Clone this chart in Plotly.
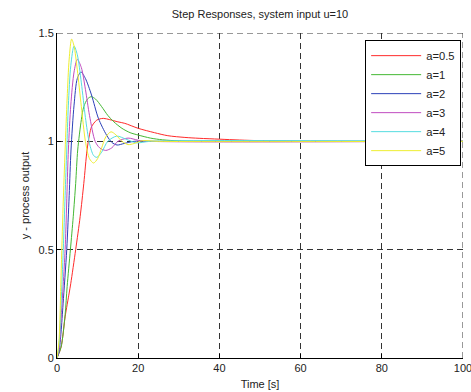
import plotly.graph_objects as go

# ---- data ----
labels = ["a=0.5", "a=1", "a=2", "a=3", "a=4", "a=5"]

t_a05 = [0, 1, 2, 3, 3.4, 4.6, 5.7, 6.6, 7.4, 8, 8.5, 9.8, 11.4, 13, 15, 16.7, 20, 24, 27.3, 31.5, 35, 40, 45, 50, 60, 100]
y_a05 = [0, 0.05, 0.19, 0.30, 0.345, 0.5, 0.652, 0.806, 0.96, 1.03, 1.067, 1.098, 1.106, 1.10, 1.09, 1.083, 1.06, 1.04, 1.026, 1.018, 1.014, 1.01, 1.006, 1.003, 1.0, 1.0]

t_a1 = [0, 1, 2, 2.5, 3.3, 4, 4.6, 5.1, 6, 6.6, 7.5, 8.4, 9.5, 11, 12.5, 14, 16, 18, 20, 23, 26, 30, 35, 100]
y_a1 = [0, 0.05, 0.2, 0.33, 0.5, 0.652, 0.806, 0.96, 1.10, 1.16, 1.195, 1.206, 1.195, 1.16, 1.12, 1.09, 1.06, 1.04, 1.029, 1.015, 1.007, 1.002, 1.0, 1.0]

t_a2 = [0, 0.5, 1, 1.5, 2.4, 3, 3.45, 4.2, 5, 5.9, 7, 8.5, 10.2, 12.2, 13.5, 14.8, 16.5, 19, 22, 100]
y_a2 = [0, 0.03, 0.12, 0.25, 0.5, 0.75, 0.96, 1.167, 1.29, 1.32, 1.29, 1.214, 1.106, 1.029, 0.995, 0.983, 0.99, 1.0, 1.0, 1.0]

t_a3 = [0, 0.5, 1, 2, 2.8, 3.4, 4.2, 5, 6, 7, 8, 9.4, 10.5, 12, 13.5, 15, 17.5, 20, 23, 100]
y_a3 = [0, 0.04, 0.18, 0.5, 0.96, 1.167, 1.32, 1.378, 1.34, 1.24, 1.12, 1.0, 0.97, 0.958, 0.97, 1.0, 1.015, 1.005, 1.0, 1.0]

t_a4 = [0, 0.5, 1, 1.55, 2, 2.4, 2.8, 3.4, 4.2, 5, 6, 7, 8, 9, 9.8, 11, 12.5, 14.7, 17, 19.5, 23, 100]
y_a4 = [0, 0.06, 0.25, 0.5, 0.75, 0.96, 1.167, 1.35, 1.44, 1.40, 1.27, 1.11, 0.99, 0.935, 0.926, 0.95, 1.0, 1.024, 1.01, 0.993, 1.0, 1.0]

t_a5 = [0, 0.5, 1, 1.5, 2, 2.5, 3, 3.6, 4.2, 5, 6, 7, 8, 9, 10, 11, 12, 13.3, 14.5, 16, 17.5, 19, 21, 25, 100]
y_a5 = [0, 0.08, 0.38, 0.70, 0.96, 1.20, 1.38, 1.472, 1.44, 1.33, 1.16, 1.00, 0.92, 0.90, 0.92, 0.97, 1.02, 1.044, 1.03, 1.00, 0.985, 0.99, 1.003, 1.0, 1.0]

x_ticks = [0, 20, 40, 60, 80, 100]
y_ticks = [0, 0.5, 1, 1.5]
y_ticklabels = ["0", "0.5", "1", "1.5"]

series_t = [t_a05, t_a1, t_a2, t_a3, t_a4, t_a5]
series_y = [y_a05, y_a1, y_a2, y_a3, y_a4, y_a5]
colors = ["#ff2a2a", "#44b834", "#2a40b8", "#c04cc0", "#55dde0", "#eeee30"]

FONT = "Arial, Liberation Sans, Helvetica, sans-serif"
GRID = "#333333"

fig = go.Figure()
for lab, tt, yy, c in zip(labels, series_t, series_y, colors):
    fig.add_trace(go.Scatter(x=tt, y=yy, mode="lines", name=lab,
                             line=dict(color=c, width=1, shape="spline", smoothing=0.8)))

# dashed grid lines at the far edges (top and right), which plotly omits
fig.add_shape(type="line", xref="x", yref="y", x0=x_ticks[0], x1=x_ticks[-1],
              y0=y_ticks[-1], y1=y_ticks[-1], layer="below",
              line=dict(color=GRID, width=1, dash="6px,4px"))
fig.add_shape(type="line", xref="x", yref="y", x0=x_ticks[-1], x1=x_ticks[-1],
              y0=y_ticks[0], y1=y_ticks[-1], layer="below",
              line=dict(color=GRID, width=1, dash="6px,4px"))

axis_common = dict(
    showline=True, linecolor="black", linewidth=1,
    ticks="inside", ticklen=4, tickcolor="black",
    showgrid=True, gridcolor=GRID, griddash="6px,4px", gridwidth=1,
    zeroline=False, tickfont=dict(family=FONT, size=11, color="#222222"),
    ticklabeloverflow="allow", automargin=False,
)

fig.update_layout(
    width=471, height=392,
    margin=dict(l=57, r=8, t=33, b=34, autoexpand=False),
    paper_bgcolor="white", plot_bgcolor="white",
    font=dict(family=FONT, size=11, color="#222222"),
    title=dict(text="Step Responses, system input u=10", x=0.552, xanchor="center",
               y=0.964, yanchor="middle", font=dict(family=FONT, size=11, color="#222222")),
    xaxis=dict(range=[0, 100], tickvals=x_ticks, title=dict(text="Time [s]", standoff=7,
               font=dict(family=FONT, size=11)), **axis_common),
    yaxis=dict(range=[0, 1.5], tickvals=y_ticks, ticktext=y_ticklabels,
               title=dict(text="y - process output", standoff=6, font=dict(family=FONT, size=11)),
               **axis_common),
    legend=dict(x=0.759, y=0.978, xanchor="left", yanchor="top",
                bgcolor="white", bordercolor="black", borderwidth=1,
                font=dict(family=FONT, size=11.2, color="#222222"),
                itemwidth=50, tracegroupgap=0),
    showlegend=True,
)

fig.write_html("out.html")
